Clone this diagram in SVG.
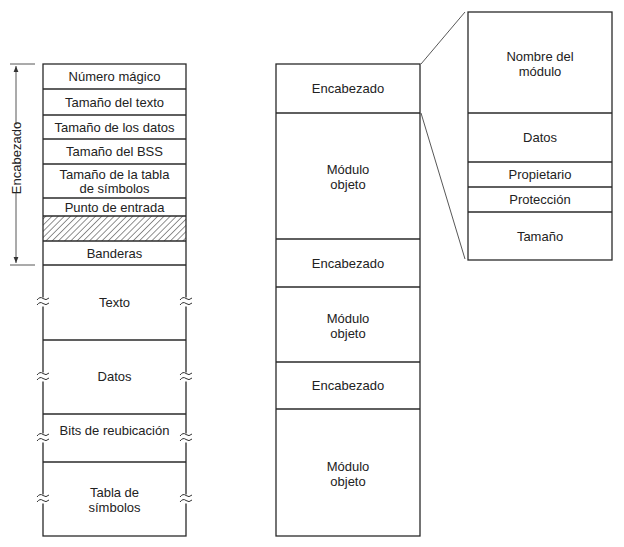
<svg xmlns="http://www.w3.org/2000/svg" width="624" height="547" viewBox="0 0 624 547">
<style>
.box{fill:none;stroke:#2a2a2a;stroke-width:1.3}
.sep{stroke:#2a2a2a;stroke-width:1.3}
.t{font-family:"Liberation Sans",Arial,sans-serif;font-size:13px;fill:#222;text-anchor:middle}
.thin{stroke:#444;stroke-width:0.9;fill:none}
.sq{stroke:#333;stroke-width:1;fill:none}
</style>
<defs>
<pattern id="hatch" patternUnits="userSpaceOnUse" width="4.4" height="4.4" patternTransform="rotate(45)">
<line x1="0" y1="0" x2="0" y2="4.4" stroke="#222" stroke-width="1"/>
</pattern>
<marker id="arr" viewBox="0 0 10 10" refX="10" refY="5" markerWidth="6" markerHeight="8" orient="auto" markerUnits="userSpaceOnUse">
<path d="M0,1 L10,5 L0,9 Z" fill="#333"/>
</marker>
<g id="brk">
<rect x="-4" y="-4.5" width="8" height="9" fill="#fff"/>
<path class="sq" d="M-6,-2 Q-3,-6 0,-3.5 T6,-4"/>
<path class="sq" d="M-6,3 Q-3,-1 0,1.5 T6,1"/>
</g>
</defs>

<g id="connectors">
<line class="thin" x1="16" y1="125" x2="16" y2="66" marker-end="url(#arr)"/>
<line class="thin" x1="16" y1="192" x2="16" y2="263" marker-end="url(#arr)"/>
<line class="thin" x1="10" y1="64" x2="35" y2="64"/>
<line class="thin" x1="10" y1="265" x2="35" y2="265"/>
<line class="thin" x1="421" y1="64" x2="465" y2="12"/>
<line class="thin" x1="421" y1="113" x2="465" y2="259"/>
</g>

<g id="bracket-label">
<text class="t" transform="translate(20.5,158) rotate(-90)">Encabezado</text>
</g>

<g id="left-column">
<rect x="43" y="216" width="143" height="25" fill="url(#hatch)"/>
<rect class="box" x="43" y="64" width="143" height="472"/>
<line class="sep" x1="43" y1="89" x2="186" y2="89"/>
<line class="sep" x1="43" y1="115" x2="186" y2="115"/>
<line class="sep" x1="43" y1="139" x2="186" y2="139"/>
<line class="sep" x1="43" y1="164" x2="186" y2="164"/>
<line class="sep" x1="43" y1="198" x2="186" y2="198"/>
<line class="sep" x1="43" y1="216" x2="186" y2="216"/>
<line class="sep" x1="43" y1="241" x2="186" y2="241"/>
<line class="sep" x1="43" y1="265" x2="186" y2="265"/>
<line class="sep" x1="43" y1="340" x2="186" y2="340"/>
<line class="sep" x1="43" y1="414" x2="186" y2="414"/>
<line class="sep" x1="43" y1="462" x2="186" y2="462"/>
<use href="#brk" x="43" y="302"/>
<use href="#brk" x="186" y="302"/>
<use href="#brk" x="43" y="377"/>
<use href="#brk" x="186" y="377"/>
<use href="#brk" x="43" y="438"/>
<use href="#brk" x="186" y="438"/>
<use href="#brk" x="43" y="499"/>
<use href="#brk" x="186" y="499"/>
<g id="n-numero"><text class="t" x="114.5" y="81">Número mágico</text></g>
<g id="n-tam-texto"><text class="t" x="114.5" y="106.5">Tamaño del texto</text></g>
<g id="n-tam-datos"><text class="t" x="114.5" y="131.5">Tamaño de los datos</text></g>
<g id="n-tam-bss"><text class="t" x="114.5" y="156">Tamaño del BSS</text></g>
<g id="n-tam-tabla"><text class="t" x="114.5" y="179">Tamaño de la tabla</text><text class="t" x="114.5" y="193">de símbolos</text></g>
<g id="n-punto"><text class="t" x="114.5" y="211.5">Punto de entrada</text></g>
<g id="n-banderas"><text class="t" x="114.5" y="257.5">Banderas</text></g>
<g id="n-texto"><text class="t" x="114.5" y="306.5">Texto</text></g>
<g id="n-datos"><text class="t" x="114.5" y="381">Datos</text></g>
<g id="n-bits"><text class="t" x="114.5" y="435">Bits de reubicación</text></g>
<g id="n-tabla"><text class="t" x="114.5" y="497">Tabla de</text><text class="t" x="114.5" y="512">símbolos</text></g>
</g>

<g id="middle-column">
<rect class="box" x="276" y="64" width="144" height="472"/>
<line class="sep" x1="276" y1="113" x2="420" y2="113"/>
<line class="sep" x1="276" y1="239" x2="420" y2="239"/>
<line class="sep" x1="276" y1="287" x2="420" y2="287"/>
<line class="sep" x1="276" y1="362" x2="420" y2="362"/>
<line class="sep" x1="276" y1="409" x2="420" y2="409"/>
<g id="m-enc1"><text class="t" x="348" y="93">Encabezado</text></g>
<g id="m-mod1"><text class="t" x="348" y="174">Módulo</text><text class="t" x="348" y="189">objeto</text></g>
<g id="m-enc2"><text class="t" x="348" y="267.5">Encabezado</text></g>
<g id="m-mod2"><text class="t" x="348" y="323">Módulo</text><text class="t" x="348" y="338">objeto</text></g>
<g id="m-enc3"><text class="t" x="348" y="389.5">Encabezado</text></g>
<g id="m-mod3"><text class="t" x="348" y="471">Módulo</text><text class="t" x="348" y="486">objeto</text></g>
</g>

<g id="right-column">
<rect class="box" x="468" y="12" width="144" height="248"/>
<line class="sep" x1="468" y1="113" x2="612" y2="113"/>
<line class="sep" x1="468" y1="162" x2="612" y2="162"/>
<line class="sep" x1="468" y1="187" x2="612" y2="187"/>
<line class="sep" x1="468" y1="212" x2="612" y2="212"/>
<g id="r-nombre"><text class="t" x="540" y="61">Nombre del</text><text class="t" x="540" y="76">módulo</text></g>
<g id="r-datos"><text class="t" x="540" y="141.5">Datos</text></g>
<g id="r-prop"><text class="t" x="540" y="179">Propietario</text></g>
<g id="r-prot"><text class="t" x="540" y="204">Protección</text></g>
<g id="r-tam"><text class="t" x="540" y="241">Tamaño</text></g>
</g>
</svg>
